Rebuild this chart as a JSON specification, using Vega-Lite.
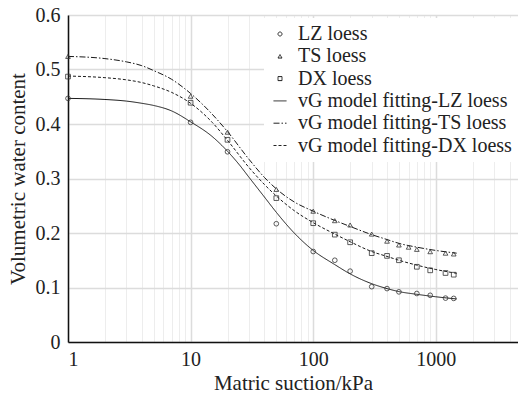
{
  "$schema": "https://vega.github.io/schema/vega-lite/v6.json",
  "width": 450,
  "height": 327,
  "autosize": {"type": "none"},
  "padding": {"left": 68, "top": 15, "right": 0, "bottom": 54},
  "background": "white",
  "datasets": {
    "pts": [
      {"s": 1, "theta": 0.447, "series": "LZ loess"},
      {"s": 10, "theta": 0.403, "series": "LZ loess"},
      {"s": 20, "theta": 0.349, "series": "LZ loess"},
      {"s": 50, "theta": 0.217, "series": "LZ loess"},
      {"s": 100, "theta": 0.166, "series": "LZ loess"},
      {"s": 150, "theta": 0.150, "series": "LZ loess"},
      {"s": 200, "theta": 0.130, "series": "LZ loess"},
      {"s": 300, "theta": 0.1015, "series": "LZ loess"},
      {"s": 400, "theta": 0.098, "series": "LZ loess"},
      {"s": 500, "theta": 0.092, "series": "LZ loess"},
      {"s": 700, "theta": 0.089, "series": "LZ loess"},
      {"s": 900, "theta": 0.0857, "series": "LZ loess"},
      {"s": 1200, "theta": 0.0805, "series": "LZ loess"},
      {"s": 1400, "theta": 0.080, "series": "LZ loess"},
      {"s": 1, "theta": 0.524, "series": "TS loess"},
      {"s": 10, "theta": 0.451, "series": "TS loess"},
      {"s": 20, "theta": 0.385, "series": "TS loess"},
      {"s": 50, "theta": 0.280, "series": "TS loess"},
      {"s": 100, "theta": 0.240, "series": "TS loess"},
      {"s": 150, "theta": 0.2226, "series": "TS loess"},
      {"s": 200, "theta": 0.2147, "series": "TS loess"},
      {"s": 300, "theta": 0.198, "series": "TS loess"},
      {"s": 400, "theta": 0.185, "series": "TS loess"},
      {"s": 500, "theta": 0.178, "series": "TS loess"},
      {"s": 600, "theta": 0.174, "series": "TS loess"},
      {"s": 700, "theta": 0.170, "series": "TS loess"},
      {"s": 900, "theta": 0.1657, "series": "TS loess"},
      {"s": 1200, "theta": 0.163, "series": "TS loess"},
      {"s": 1400, "theta": 0.1615, "series": "TS loess"},
      {"s": 1, "theta": 0.487, "series": "DX loess"},
      {"s": 10, "theta": 0.439, "series": "DX loess"},
      {"s": 20, "theta": 0.371, "series": "DX loess"},
      {"s": 50, "theta": 0.264, "series": "DX loess"},
      {"s": 100, "theta": 0.218, "series": "DX loess"},
      {"s": 150, "theta": 0.197, "series": "DX loess"},
      {"s": 200, "theta": 0.183, "series": "DX loess"},
      {"s": 300, "theta": 0.163, "series": "DX loess"},
      {"s": 400, "theta": 0.158, "series": "DX loess"},
      {"s": 500, "theta": 0.150, "series": "DX loess"},
      {"s": 700, "theta": 0.138, "series": "DX loess"},
      {"s": 900, "theta": 0.1315, "series": "DX loess"},
      {"s": 1200, "theta": 0.1266, "series": "DX loess"},
      {"s": 1400, "theta": 0.1235, "series": "DX loess"}
    ],
    "curves": [
      {"s": 1, "theta": 0.447, "series": "vG model fitting-LZ loess"},
      {"s": 2, "theta": 0.445, "series": "vG model fitting-LZ loess"},
      {"s": 3, "theta": 0.442, "series": "vG model fitting-LZ loess"},
      {"s": 4, "theta": 0.438, "series": "vG model fitting-LZ loess"},
      {"s": 5, "theta": 0.434, "series": "vG model fitting-LZ loess"},
      {"s": 7, "theta": 0.424, "series": "vG model fitting-LZ loess"},
      {"s": 10, "theta": 0.404, "series": "vG model fitting-LZ loess"},
      {"s": 15, "theta": 0.377, "series": "vG model fitting-LZ loess"},
      {"s": 20, "theta": 0.350, "series": "vG model fitting-LZ loess"},
      {"s": 25, "theta": 0.325, "series": "vG model fitting-LZ loess"},
      {"s": 30, "theta": 0.302, "series": "vG model fitting-LZ loess"},
      {"s": 40, "theta": 0.266, "series": "vG model fitting-LZ loess"},
      {"s": 50, "theta": 0.238, "series": "vG model fitting-LZ loess"},
      {"s": 70, "theta": 0.200, "series": "vG model fitting-LZ loess"},
      {"s": 100, "theta": 0.168, "series": "vG model fitting-LZ loess"},
      {"s": 150, "theta": 0.142, "series": "vG model fitting-LZ loess"},
      {"s": 200, "theta": 0.125, "series": "vG model fitting-LZ loess"},
      {"s": 300, "theta": 0.107, "series": "vG model fitting-LZ loess"},
      {"s": 400, "theta": 0.098, "series": "vG model fitting-LZ loess"},
      {"s": 500, "theta": 0.0925, "series": "vG model fitting-LZ loess"},
      {"s": 700, "theta": 0.0875, "series": "vG model fitting-LZ loess"},
      {"s": 1000, "theta": 0.083, "series": "vG model fitting-LZ loess"},
      {"s": 1480, "theta": 0.079, "series": "vG model fitting-LZ loess"},
      {"s": 1, "theta": 0.524, "series": "vG model fitting-TS loess"},
      {"s": 2, "theta": 0.520, "series": "vG model fitting-TS loess"},
      {"s": 3, "theta": 0.514, "series": "vG model fitting-TS loess"},
      {"s": 4, "theta": 0.507, "series": "vG model fitting-TS loess"},
      {"s": 5, "theta": 0.498, "series": "vG model fitting-TS loess"},
      {"s": 7, "theta": 0.482, "series": "vG model fitting-TS loess"},
      {"s": 10, "theta": 0.456, "series": "vG model fitting-TS loess"},
      {"s": 15, "theta": 0.418, "series": "vG model fitting-TS loess"},
      {"s": 20, "theta": 0.386, "series": "vG model fitting-TS loess"},
      {"s": 30, "theta": 0.335, "series": "vG model fitting-TS loess"},
      {"s": 40, "theta": 0.302, "series": "vG model fitting-TS loess"},
      {"s": 50, "theta": 0.281, "series": "vG model fitting-TS loess"},
      {"s": 70, "theta": 0.257, "series": "vG model fitting-TS loess"},
      {"s": 100, "theta": 0.240, "series": "vG model fitting-TS loess"},
      {"s": 150, "theta": 0.223, "series": "vG model fitting-TS loess"},
      {"s": 200, "theta": 0.212, "series": "vG model fitting-TS loess"},
      {"s": 300, "theta": 0.197, "series": "vG model fitting-TS loess"},
      {"s": 400, "theta": 0.188, "series": "vG model fitting-TS loess"},
      {"s": 500, "theta": 0.181, "series": "vG model fitting-TS loess"},
      {"s": 700, "theta": 0.174, "series": "vG model fitting-TS loess"},
      {"s": 1000, "theta": 0.168, "series": "vG model fitting-TS loess"},
      {"s": 1480, "theta": 0.163, "series": "vG model fitting-TS loess"},
      {"s": 1, "theta": 0.488, "series": "vG model fitting-DX loess"},
      {"s": 2, "theta": 0.485, "series": "vG model fitting-DX loess"},
      {"s": 3, "theta": 0.481, "series": "vG model fitting-DX loess"},
      {"s": 4, "theta": 0.476, "series": "vG model fitting-DX loess"},
      {"s": 5, "theta": 0.470, "series": "vG model fitting-DX loess"},
      {"s": 7, "theta": 0.458, "series": "vG model fitting-DX loess"},
      {"s": 10, "theta": 0.438, "series": "vG model fitting-DX loess"},
      {"s": 15, "theta": 0.403, "series": "vG model fitting-DX loess"},
      {"s": 20, "theta": 0.370, "series": "vG model fitting-DX loess"},
      {"s": 30, "theta": 0.320, "series": "vG model fitting-DX loess"},
      {"s": 40, "theta": 0.289, "series": "vG model fitting-DX loess"},
      {"s": 50, "theta": 0.268, "series": "vG model fitting-DX loess"},
      {"s": 70, "theta": 0.241, "series": "vG model fitting-DX loess"},
      {"s": 100, "theta": 0.219, "series": "vG model fitting-DX loess"},
      {"s": 150, "theta": 0.198, "series": "vG model fitting-DX loess"},
      {"s": 200, "theta": 0.184, "series": "vG model fitting-DX loess"},
      {"s": 300, "theta": 0.166, "series": "vG model fitting-DX loess"},
      {"s": 400, "theta": 0.157, "series": "vG model fitting-DX loess"},
      {"s": 500, "theta": 0.150, "series": "vG model fitting-DX loess"},
      {"s": 700, "theta": 0.141, "series": "vG model fitting-DX loess"},
      {"s": 1000, "theta": 0.133, "series": "vG model fitting-DX loess"},
      {"s": 1480, "theta": 0.126, "series": "vG model fitting-DX loess"}
    ]
  },
  "encoding": {
    "x": {
      "field": "s",
      "type": "quantitative",
      "title": "Matric suction/kPa",
      "scale": {"type": "log", "domain": [1, 4680], "nice": false},
      "axis": {
        "values": [1,2,3,4,5,6,7,8,9,10,20,30,40,50,60,70,80,90,100,200,300,400,500,600,700,800,900,1000,2000,3000,4000],
        "labelExpr": "indexof([1,10,100,1000], datum.value) >= 0 ? datum.label : ''",
        "format": "d",
        "gridColor": {"condition": {"test": "indexof([1,10,100,1000], datum.value) >= 0", "value": "#dcdcdc"}, "value": "#ededed"},
        "gridWidth": {"condition": {"test": "indexof([1,10,100,1000], datum.value) >= 0", "value": 1.5}, "value": 1},
        "labelPadding": 7,
        "titlePadding": 3,
        "labelOverlap": false
      }
    },
    "y": {
      "field": "theta",
      "type": "quantitative",
      "title": "Volumetric water content",
      "scale": {"domain": [0, 0.6], "nice": false},
      "axis": {
        "values": [0, 0.1, 0.2, 0.3, 0.4, 0.5, 0.6],
        "labelExpr": "datum.value == 0 ? '0' : format(datum.value, '.1f')",
        "gridColor": "#dcdcdc",
        "gridWidth": 1.5,
        "labelPadding": 8,
        "titlePadding": 7
      }
    }
  },
  "layer": [
    {
      "data": {"values": [{}]},
      "mark": {"type": "rule", "color": "#555555", "strokeWidth": 1.5},
      "encoding": {"y": {"datum": 0.6}, "x": null}
    },
    {
      "data": {"name": "curves"},
      "mark": {"type": "line", "interpolate": "monotone", "color": "#1a1a1a", "strokeWidth": 1},
      "encoding": {
        "strokeDash": {
          "field": "series",
          "type": "nominal",
          "scale": {
            "domain": ["LZ loess", "TS loess", "DX loess", "vG model fitting-LZ loess", "vG model fitting-TS loess", "vG model fitting-DX loess"],
            "range": [[1, 0], [1, 0], [1, 0], [1, 0], [6, 2, 1.5, 2], [3, 2]]
          },
          "legend": {
            "title": null,
            "orient": "none",
            "legendX": 196,
            "legendY": 3,
            "padding": 6,
            "fillColor": "white",
            "rowPadding": 2.3,
            "labelOffset": 8,
            "labelLimit": 400,
            "symbolSize": 169,
            "symbolStrokeColor": "#222222",
            "symbolStrokeWidth": 1,
            "symbolFillColor": "transparent",
            "encode": {
              "symbols": {
                "update": {
                  "size": {"signal": "indexof(['LZ loess','TS loess','DX loess'], datum.value) >= 0 ? 16 : 169"}
                }
              }
            }
          }
        }
      }
    },
    {
      "data": {"name": "pts"},
      "mark": {"type": "point", "filled": false, "color": "#333333", "strokeWidth": 0.8, "size": 22, "opacity": 1},
      "encoding": {
        "shape": {
          "field": "series",
          "type": "nominal",
          "scale": {
            "domain": ["LZ loess", "TS loess", "DX loess", "vG model fitting-LZ loess", "vG model fitting-TS loess", "vG model fitting-DX loess"],
            "range": ["circle", "triangle-up", "square", "stroke", "stroke", "stroke"]
          },
          "legend": {
            "title": null,
            "orient": "none",
            "legendX": 196,
            "legendY": 3,
            "padding": 6,
            "fillColor": "white",
            "rowPadding": 2.3,
            "labelOffset": 8,
            "labelLimit": 400,
            "symbolSize": 169,
            "symbolStrokeColor": "#222222",
            "symbolStrokeWidth": 1,
            "symbolFillColor": "transparent",
            "encode": {
              "symbols": {
                "update": {
                  "size": {"signal": "indexof(['LZ loess','TS loess','DX loess'], datum.value) >= 0 ? 16 : 169"}
                }
              }
            }
          }
        }
      }
    }
  ],
  "config": {
    "font": "Liberation Serif",
    "view": {"stroke": null},
    "axis": {
      "labelFont": "Liberation Serif",
      "titleFont": "Liberation Serif",
      "labelFontSize": 20,
      "titleFontSize": 21,
      "titleFontWeight": "normal",
      "labelColor": "#222222",
      "titleColor": "#222222",
      "domainColor": "#111111",
      "domainWidth": 1.5,
      "ticks": false,
      "tickSize": 0
    },
    "legend": {
      "labelFont": "Liberation Serif",
      "labelFontSize": 20,
      "labelColor": "#222222",
      "labelLimit": 400
    }
  }
}
